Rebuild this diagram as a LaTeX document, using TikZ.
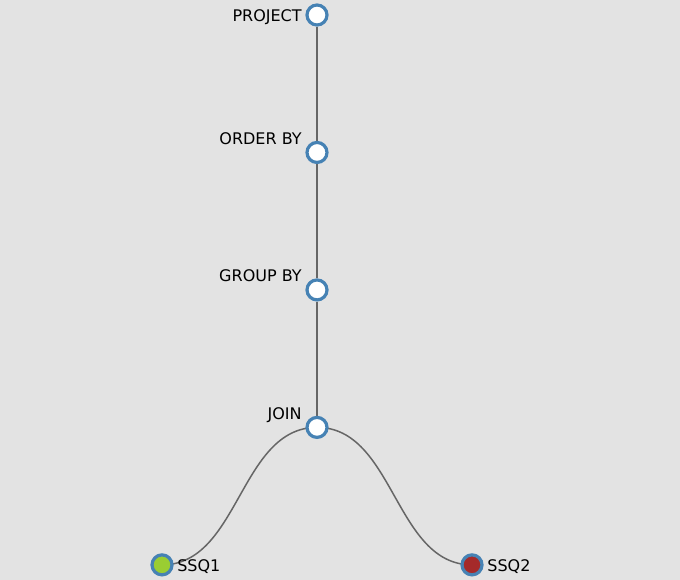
\documentclass[tikz,border=0pt]{standalone}
\usepackage{fontspec}
\setmainfont{DejaVu Sans}
\usetikzlibrary{trees,calc,backgrounds}
\definecolor{bggrey}{HTML}{E3E3E3}
\definecolor{steel}{HTML}{4682B4}
\definecolor{linkgrey}{HTML}{666666}
\definecolor{ssqone}{HTML}{9ACD32}
\definecolor{ssqtwo}{HTML}{A52A2A}
\tikzset{
    every node/.style={font=\fontsize{12}{14}\selectfont},
    every label/.style={inner sep=0pt,text depth=0pt},
    qnode/.style={circle,draw=steel,line width=2.4pt,fill=white,minimum size=15pt,inner sep=0pt},
    rootnode/.style={qnode,label={[label distance=2.6pt,yshift=-0.75pt]180:#1}},
    opnode/.style={qnode,label={[label distance=2.6pt,yshift=10.5pt]180:#1}},
    leafnode/.style={qnode,label={[label distance=2.6pt,yshift=-0.75pt]0:#1}},
    link/.style={draw=linkgrey,line width=1.125pt}
}
\begin{document}
\begin{tikzpicture}[x=0.75pt,y=-0.75pt,
        level distance=103.1pt,sibling distance=232.5pt,
        edge from parent path={}]
    \node[rootnode=PROJECT] (project) at (317,15) {}
        child{node[opnode=ORDER BY] (orderby) {}
            child{node[opnode=GROUP BY] (groupby) {}
                child{node[opnode=JOIN] (join) {}
                    child{node[leafnode=SSQ1,fill=ssqone] (ssq1) {}}
                    child{node[leafnode=SSQ2,fill=ssqtwo] (ssq2) {}}}}};
    % links under the nodes
    \begin{pgfonlayer}{background}
        \fill[bggrey] (0,0) rectangle (680,580);
        \draw[link] (project) -- (orderby) -- (groupby) -- (join);
        \foreach \leaf in {ssq1,ssq2}
            \draw[link] (join.center) .. controls ($(join)!0.5!(join -| \leaf)$) and ($(\leaf)!0.5!(\leaf -| join)$) .. (\leaf.center);
    \end{pgfonlayer}
\end{tikzpicture}
\end{document}
